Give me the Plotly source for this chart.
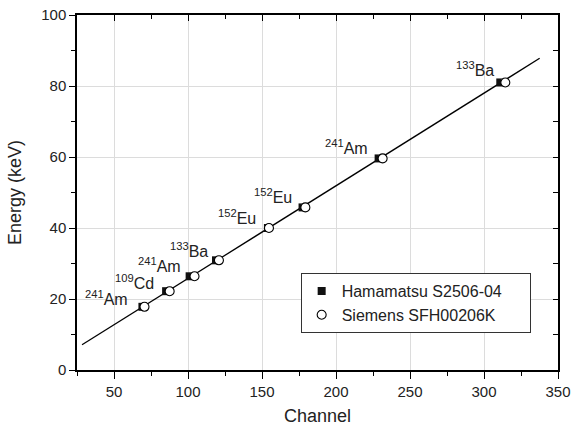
import plotly.graph_objects as go

# Data
energy_keV = [17.8, 22.2, 26.4, 30.9, 40.0, 45.8, 59.6, 81.0]
hamamatsu_channel = [69.2, 85.2, 101.1, 118.9, 154.0, 177.4, 228.8, 311.0]
siemens_channel = [70.6, 87.6, 104.4, 120.9, 154.7, 179.3, 231.5, 314.4]

fit_channel = [28.4, 337.6]
fit_energy = [7.1, 87.8]

label_texts = ["<sup>241</sup>Am", "<sup>109</sup>Cd", "<sup>241</sup>Am", "<sup>133</sup>Ba",
               "<sup>152</sup>Eu", "<sup>152</sup>Eu", "<sup>241</sup>Am", "<sup>133</sup>Ba"]
label_x = [44.8, 64.0, 80.6, 100.5, 133.0, 157.6, 207.4, 294.0]
label_y = [20.4, 24.8, 29.5, 33.7, 43.0, 48.9, 62.7, 84.9]

series_names = ["Hamamatsu S2506-04", "Siemens SFH00206K"]

x_ticks = [50, 100, 150, 200, 250, 300, 350]
y_ticks = [0, 20, 40, 60, 80, 100]

FONT = "Liberation Sans, Arial, sans-serif"
TXT = "#222222"
PAD = "\u00a0" * 5  # widen the legend box a little

fig = go.Figure()
fig.add_trace(go.Scatter(x=fit_channel, y=fit_energy, mode="lines",
                         line=dict(color="black", width=1.3), showlegend=False,
                         hoverinfo="skip"))
fig.add_trace(go.Scatter(x=hamamatsu_channel, y=energy_keV, mode="markers",
                         name=series_names[0] + PAD,
                         marker=dict(symbol="square", size=8, color="#111111",
                                     line=dict(width=0))))
fig.add_trace(go.Scatter(x=siemens_channel, y=energy_keV, mode="markers",
                         name=series_names[1] + PAD,
                         marker=dict(symbol="circle", size=9, color="white",
                                     line=dict(color="black", width=1.1))))

for t, x, y in zip(label_texts, label_x, label_y):
    fig.add_annotation(x=x, y=y, text=t, showarrow=False,
                       font=dict(family=FONT, size=16, color=TXT))

axis_common = dict(showline=True, linecolor="black", linewidth=1.5,
                   tickcolor="black", tickwidth=1.3, zeroline=False,
                   automargin=False)

fig.update_layout(
    width=581, height=426,
    margin=dict(l=77, r=23, t=15, b=56),
    paper_bgcolor="white", plot_bgcolor="white",
    font=dict(family=FONT, size=15, color=TXT),
    xaxis=dict(range=[25, 350], tickvals=x_ticks, ticks="outside", ticklen=7,
               showgrid=True, gridcolor="#dcdcdc", gridwidth=1,
               minor=dict(dtick=25, tick0=0, ticks="outside", ticklen=4,
                          tickcolor="black", showgrid=False),
               title=dict(text="Channel", font=dict(size=18), standoff=11),
               tickfont=dict(size=15), **axis_common),
    yaxis=dict(range=[0, 100], tickvals=y_ticks, ticks="outside", ticklen=6,
               showgrid=True, gridcolor="#dcdcdc", gridwidth=1,
               minor=dict(dtick=10, tick0=0, ticks="outside", ticklen=4,
                          tickcolor="black", showgrid=False),
               title=dict(text="Energy (keV)", font=dict(size=18), standoff=15),
               tickfont=dict(size=15), **axis_common),
    xaxis2=dict(overlaying="x", side="top", range=[25, 350], tickvals=x_ticks,
                ticks="inside", ticklen=6, showticklabels=False, showgrid=False,
                minor=dict(dtick=25, tick0=0, ticks="inside", ticklen=4,
                           tickcolor="black"),
                **axis_common),
    yaxis2=dict(overlaying="y", side="right", range=[0, 100], tickvals=y_ticks,
                ticks="inside", ticklen=5, showticklabels=False, showgrid=False,
                minor=dict(dtick=10, tick0=0, ticks="inside", ticklen=5,
                           tickcolor="black"),
                **axis_common),
    legend=dict(x=0.465, y=0.273, xanchor="left", yanchor="top",
                bordercolor="#333333", borderwidth=1, bgcolor="white",
                font=dict(size=16), tracegroupgap=0),
    showlegend=True,
)
# invisible trace to activate the mirror axes
fig.add_trace(go.Scatter(x=[None], y=[None], xaxis="x2", yaxis="y2",
                         showlegend=False, hoverinfo="skip"))

fig.write_html("out.html")
